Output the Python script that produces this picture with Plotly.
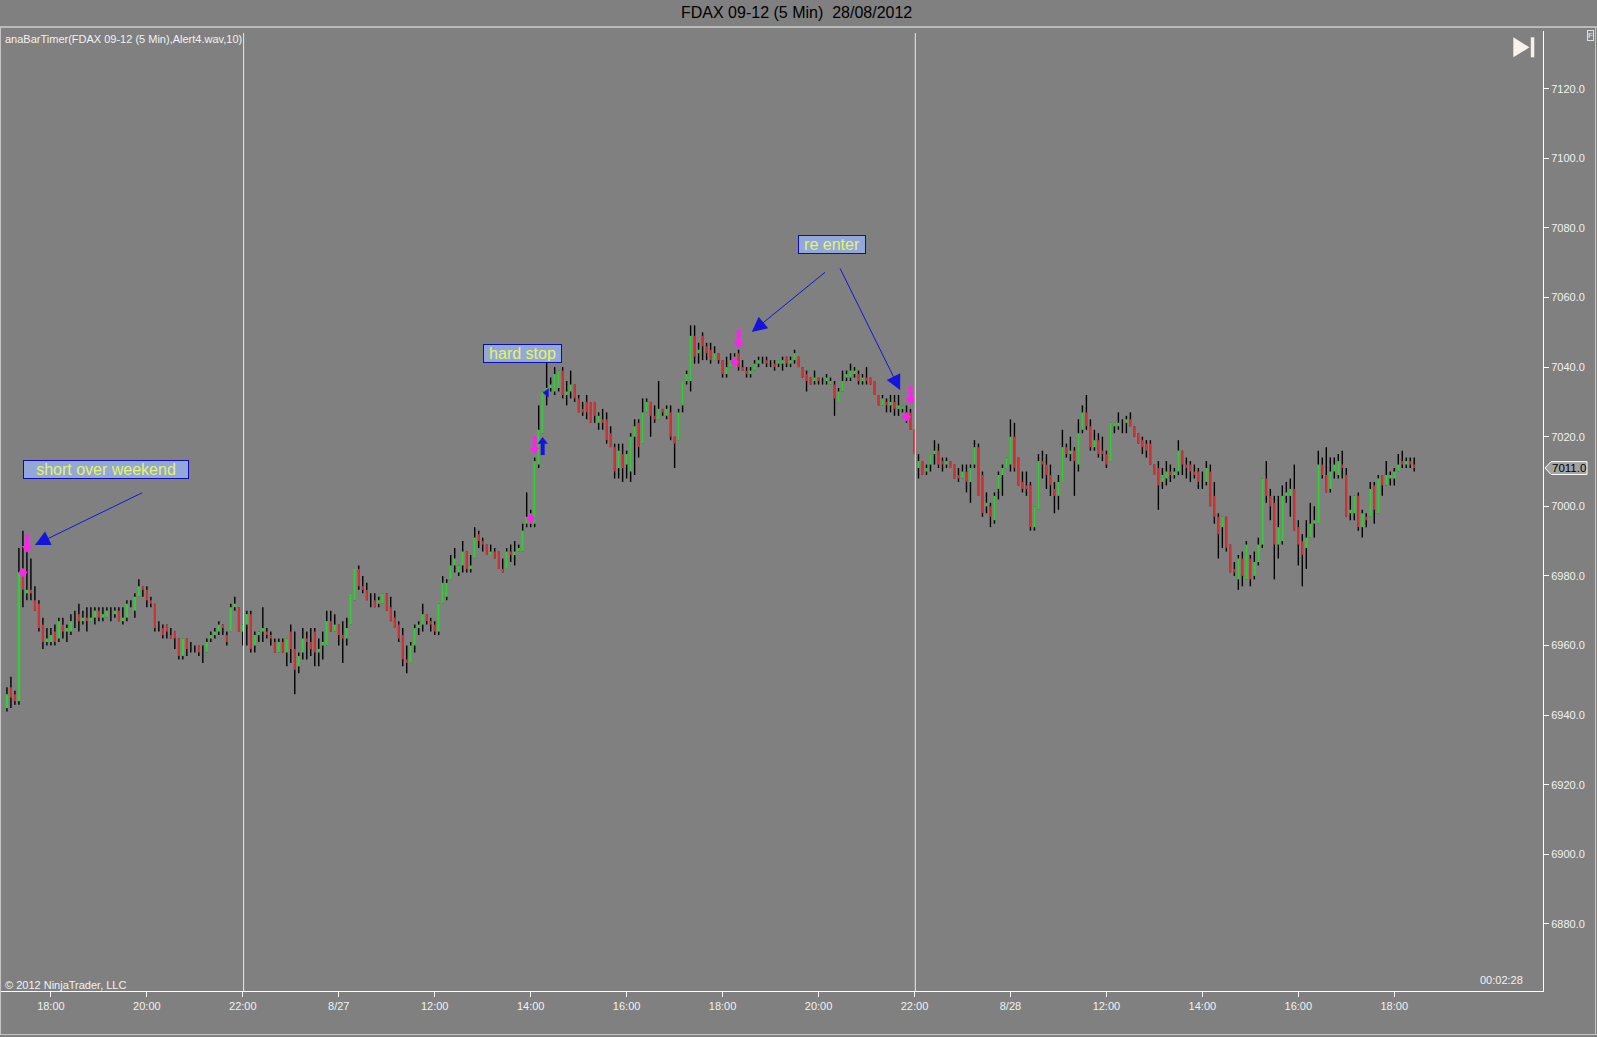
import pandas as pd
import plotly.graph_objects as go

# FDAX 09-12, 5 minute bars. Sessions 08:05-22:00, chart starts Friday 17:05
sessions = [
    ("2012-08-24 17:05", "2012-08-24 22:00"),
    ("2012-08-27 08:05", "2012-08-27 22:00"),
    ("2012-08-28 08:05", "2012-08-28 18:25"),
]

bar_open = [
    6942, 6948, 6946, 6944, 6981, 6975, 6976, 6973, 6972, 6966,
    6961, 6961, 6964, 6962, 6966, 6964, 6964, 6968, 6969, 6967,
    6968, 6967, 6968, 6970, 6968, 6968, 6969, 6969, 6970, 6967,
    6968, 6972, 6970, 6974, 6977, 6976, 6973, 6972, 6965, 6965,
    6966, 6963, 6964, 6962, 6957, 6962, 6959, 6959, 6960, 6958,
    6958, 6962, 6963, 6964, 6966, 6963, 6964, 6971, 6971, 6964,
    6966, 6969, 6960, 6963, 6964, 6964, 6963, 6961, 6958, 6961,
    6958, 6964, 6959, 6954, 6958, 6962, 6961, 6964, 6958, 6960,
    6960, 6967, 6964, 6966, 6963, 6962, 6966, 6973, 6982, 6977,
    6976, 6973, 6973, 6972, 6972, 6975, 6971, 6968, 6966, 6963,
    6956, 6955, 6960, 6965, 6966, 6969, 6967, 6966, 6964, 6972,
    6974, 6979, 6983, 6981, 6983, 6987, 6982, 6985, 6992, 6990,
    6989, 6986, 6987, 6987, 6982, 6982, 6987, 6986, 6987, 6987,
    6995, 6995, 6995, 7012, 7021, 7033, 7034, 7033, 7034, 7039,
    7032, 7033, 7035, 7031, 7028, 7030, 7030, 7030, 7024, 7025,
    7025, 7021, 7017, 7011, 7015, 7012, 7010, 7020, 7024, 7018,
    7027, 7030, 7026, 7025, 7028, 7026, 7027, 7020, 7019, 7029,
    7036, 7036, 7049, 7044, 7049, 7046, 7045, 7042, 7044, 7042,
    7038, 7040, 7042, 7044, 7040, 7039, 7038, 7039, 7041, 7042,
    7042, 7041, 7041, 7041, 7041, 7043, 7041, 7042, 7043, 7040,
    7038, 7037, 7036, 7037, 7036, 7036, 7035, 7035, 7030, 7033,
    7037, 7037, 7038, 7038, 7036, 7037, 7037, 7036, 7032, 7029,
    7030, 7029, 7030, 7028, 7028, 7027, 7027, 7022,
    7011, 7013, 7010, 7012, 7015, 7016, 7013, 7012, 7013, 7012,
    7009, 7008, 7010, 7007, 7012, 7017, 7009, 7000, 7000, 6996,
    7005, 7009, 7011, 7012, 7020, 7014, 7007, 7006, 7006, 6994,
    6999, 7013, 7012, 7009, 7005, 7003, 7007, 7017, 7015, 7016,
    7012, 7022, 7027, 7023, 7017, 7019, 7016, 7015, 7013, 7023,
    7023, 7024, 7024, 7025, 7023, 7021, 7019, 7018, 7018, 7012,
    7011, 7007, 7008, 7010, 7009, 7010, 7016, 7012, 7012, 7010,
    7010, 7007, 7007, 7010, 7003, 6997, 6994, 6997, 6989, 6982,
    6979, 6985, 6979, 6985, 6980, 6984, 6989, 7008, 7003, 7001,
    6989, 6990, 7003, 7003, 7005, 6994, 6990, 6988, 6991, 6995,
    6995, 7012, 7009, 7005, 7010, 7009, 7012, 7009, 6998, 6998,
    7003, 6994, 6997, 6997, 7006, 6998, 7009, 7006, 7008, 7008,
    7010, 7013, 7012, 7013, 7012,
]

bar_high = [
    6948, 6951, 6947, 6988, 6993, 6990, 6985, 6977, 6973, 6968,
    6965, 6965, 6966, 6968, 6968, 6966, 6969, 6970, 6972, 6970,
    6971, 6971, 6971, 6971, 6971, 6971, 6971, 6971, 6971, 6971,
    6973, 6973, 6975, 6979, 6977, 6977, 6974, 6972, 6967, 6966,
    6966, 6965, 6964, 6962, 6962, 6962, 6961, 6960, 6960, 6960,
    6962, 6964, 6965, 6967, 6966, 6964, 6972, 6974, 6971, 6966,
    6970, 6970, 6964, 6964, 6971, 6965, 6964, 6962, 6962, 6962,
    6962, 6966, 6964, 6958, 6965, 6964, 6965, 6965, 6962, 6964,
    6970, 6970, 6969, 6966, 6967, 6968, 6975, 6982, 6983, 6980,
    6978, 6975, 6975, 6974, 6975, 6975, 6974, 6970, 6967, 6965,
    6960, 6961, 6966, 6967, 6972, 6969, 6968, 6967, 6972, 6980,
    6979, 6986, 6988, 6983, 6990, 6987, 6986, 6994, 6993, 6991,
    6989, 6989, 6988, 6987, 6985, 6988, 6989, 6990, 6989, 6995,
    7004, 6999, 7014, 7029, 7033, 7042, 7037, 7040, 7039, 7040,
    7036, 7039, 7035, 7032, 7030, 7032, 7030, 7030, 7027, 7028,
    7027, 7023, 7018, 7018, 7018, 7016, 7021, 7025, 7025, 7031,
    7031, 7030, 7029, 7036, 7028, 7029, 7029, 7020, 7028, 7036,
    7039, 7052, 7052, 7047, 7050, 7047, 7047, 7046, 7044, 7042,
    7043, 7044, 7044, 7045, 7042, 7040, 7040, 7042, 7043, 7043,
    7043, 7042, 7042, 7042, 7043, 7043, 7043, 7045, 7043, 7040,
    7039, 7037, 7039, 7037, 7037, 7038, 7037, 7036, 7034, 7039,
    7039, 7041, 7040, 7039, 7038, 7040, 7037, 7036, 7032, 7032,
    7031, 7032, 7032, 7032, 7029, 7029, 7028, 7022,
    7015, 7013, 7012, 7015, 7019, 7018, 7014, 7014, 7013, 7012,
    7011, 7012, 7012, 7012, 7019, 7018, 7010, 7004, 7001, 7004,
    7010, 7012, 7014, 7025, 7024, 7014, 7010, 7010, 7007, 7000,
    7015, 7016, 7015, 7012, 7007, 7009, 7022, 7018, 7020, 7017,
    7025, 7029, 7032, 7025, 7022, 7021, 7020, 7016, 7024, 7024,
    7027, 7025, 7026, 7027, 7023, 7021, 7020, 7019, 7019, 7012,
    7013, 7011, 7013, 7012, 7011, 7019, 7016, 7014, 7013, 7012,
    7011, 7010, 7013, 7012, 7007, 6998, 6997, 6997, 6989, 6984,
    6986, 6987, 6990, 6986, 6987, 6991, 7008, 7013, 7005, 7003,
    7003, 7006, 7007, 7008, 7012, 6996, 6992, 6996, 7001, 7000,
    7016, 7014, 7017, 7014, 7014, 7015, 7016, 7011, 7003, 7003,
    7004, 6999, 6998, 7007, 7007, 7009, 7009, 7013, 7010, 7011,
    7015, 7016, 7014, 7014, 7014,
]

bar_low = [
    6941, 6942, 6943, 6943, 6971, 6973, 6973, 6970, 6964, 6959,
    6960, 6960, 6960, 6961, 6962, 6961, 6963, 6965, 6964, 6966,
    6964, 6967, 6966, 6967, 6967, 6968, 6967, 6968, 6967, 6966,
    6967, 6971, 6968, 6974, 6974, 6971, 6971, 6964, 6964, 6962,
    6962, 6962, 6959, 6956, 6956, 6957, 6958, 6958, 6957, 6955,
    6958, 6961, 6962, 6963, 6963, 6960, 6964, 6970, 6964, 6960,
    6960, 6958, 6958, 6961, 6961, 6962, 6960, 6958, 6958, 6958,
    6954, 6955, 6946, 6952, 6956, 6956, 6957, 6954, 6954, 6956,
    6960, 6964, 6964, 6960, 6955, 6960, 6966, 6973, 6976, 6975,
    6973, 6971, 6971, 6971, 6972, 6970, 6967, 6965, 6961, 6954,
    6952, 6955, 6958, 6963, 6964, 6966, 6964, 6963, 6963, 6972,
    6973, 6979, 6981, 6980, 6981, 6981, 6981, 6985, 6988, 6987,
    6986, 6986, 6985, 6982, 6981, 6982, 6984, 6983, 6987, 6987,
    6994, 6994, 6994, 7011, 7021, 7029, 7033, 7032, 7033, 7031,
    7029, 7031, 7030, 7027, 7026, 7025, 7024, 7024, 7022, 7022,
    7018, 7017, 7008, 7008, 7007, 7008, 7007, 7009, 7014, 7018,
    7027, 7020, 7024, 7025, 7026, 7025, 7019, 7011, 7019, 7027,
    7035, 7033, 7041, 7041, 7042, 7042, 7041, 7042, 7041, 7037,
    7037, 7040, 7041, 7039, 7039, 7037, 7037, 7039, 7040, 7041,
    7040, 7040, 7039, 7040, 7039, 7040, 7040, 7041, 7040, 7037,
    7033, 7035, 7035, 7035, 7035, 7035, 7035, 7026, 7030, 7033,
    7036, 7036, 7037, 7035, 7035, 7035, 7035, 7032, 7029, 7029,
    7027, 7027, 7026, 7026, 7027, 7024, 7022, 7015,
    7008, 7009, 7009, 7010, 7012, 7011, 7010, 7011, 7011, 7008,
    7007, 7008, 7004, 7001, 7011, 7003, 6997, 6998, 6994, 6995,
    7002, 7003, 7011, 7010, 7010, 7006, 7004, 7003, 6993, 6993,
    6999, 7008, 7005, 7003, 6998, 6999, 7007, 7014, 7013, 7003,
    7010, 7021, 7022, 7016, 7016, 7014, 7013, 7011, 7013, 7021,
    7022, 7021, 7021, 7023, 7020, 7018, 7015, 7014, 7012, 7009,
    6999, 7005, 7006, 7007, 7008, 7009, 7009, 7008, 7007, 7008,
    7005, 7005, 7006, 7000, 6995, 6985, 6988, 6987, 6981, 6980,
    6976, 6977, 6979, 6977, 6979, 6983, 6988, 7001, 6996, 6979,
    6985, 6989, 7001, 6997, 6993, 6983, 6977, 6982, 6991, 6991,
    6995, 7008, 7004, 7004, 7008, 7008, 7008, 6997, 6996, 6996,
    6993, 6991, 6994, 6997, 6995, 6998, 7003, 7006, 7006, 7006,
    7010, 7011, 7011, 7011, 7010,
]

bar_close = [
    6946, 6945, 6944, 6981, 6976, 6976, 6975, 6970, 6965, 6961,
    6962, 6963, 6961, 6967, 6964, 6965, 6967, 6968, 6967, 6968,
    6967, 6968, 6970, 6968, 6969, 6970, 6969, 6970, 6967, 6968,
    6972, 6972, 6974, 6977, 6976, 6973, 6972, 6965, 6965, 6963,
    6964, 6962, 6962, 6957, 6962, 6959, 6959, 6959, 6958, 6958,
    6961, 6963, 6964, 6966, 6965, 6961, 6971, 6972, 6964, 6966,
    6969, 6959, 6963, 6964, 6965, 6963, 6962, 6958, 6961, 6958,
    6962, 6959, 6953, 6957, 6962, 6961, 6959, 6958, 6959, 6961,
    6967, 6964, 6966, 6963, 6962, 6965, 6975, 6982, 6977, 6976,
    6973, 6973, 6971, 6973, 6975, 6970, 6967, 6965, 6962, 6956,
    6955, 6960, 6965, 6966, 6969, 6967, 6966, 6964, 6972, 6978,
    6978, 6983, 6985, 6983, 6987, 6982, 6983, 6991, 6990, 6989,
    6986, 6987, 6985, 6982, 6981, 6987, 6986, 6987, 6988, 6993,
    6997, 6998, 7013, 7022, 7033, 7034, 7035, 7038, 7039, 7032,
    7033, 7035, 7031, 7027, 7027, 7027, 7024, 7026, 7026, 7024,
    7019, 7017, 7010, 7016, 7011, 7015, 7020, 7023, 7017, 7027,
    7030, 7026, 7025, 7028, 7027, 7028, 7020, 7018, 7027, 7036,
    7038, 7049, 7043, 7045, 7046, 7044, 7042, 7044, 7042, 7038,
    7040, 7042, 7043, 7040, 7039, 7038, 7039, 7041, 7042, 7042,
    7041, 7041, 7040, 7042, 7042, 7041, 7042, 7044, 7040, 7037,
    7036, 7035, 7037, 7036, 7036, 7037, 7036, 7031, 7033, 7036,
    7038, 7039, 7039, 7036, 7037, 7036, 7035, 7032, 7029, 7031,
    7029, 7030, 7028, 7029, 7029, 7025, 7022, 7015,
    7013, 7009, 7011, 7015, 7016, 7012, 7012, 7013, 7011, 7008,
    7008, 7010, 7007, 7011, 7017, 7003, 6998, 7001, 6997, 7003,
    7009, 7011, 7014, 7020, 7011, 7006, 7005, 7005, 6994, 7000,
    7013, 7012, 7009, 7006, 7003, 7007, 7017, 7015, 7016, 7013,
    7021, 7027, 7023, 7017, 7019, 7015, 7015, 7012, 7024, 7024,
    7024, 7024, 7025, 7023, 7020, 7018, 7017, 7016, 7012, 7009,
    7006, 7009, 7010, 7009, 7010, 7016, 7012, 7011, 7010, 7009,
    7007, 7007, 7011, 7000, 6997, 6992, 6997, 6988, 6981, 6981,
    6985, 6980, 6989, 6979, 6984, 6989, 7008, 7003, 7000, 6989,
    6994, 7003, 7004, 7005, 6993, 6989, 6986, 6991, 6995, 6996,
    7012, 7009, 7004, 7010, 7012, 7013, 7011, 6997, 6999, 7003,
    6994, 6998, 6996, 7005, 6999, 7008, 7006, 7009, 7009, 7010,
    7012, 7012, 7013, 7012, 7011,
]

tick_labels = ["18:00", "20:00", "22:00", "8/27", "12:00", "14:00", "16:00",
               "18:00", "20:00", "22:00", "8/28", "12:00", "14:00", "16:00", "18:00"]
price_ticks = [6880, 6900, 6920, 6940, 6960, 6980, 7000, 7020,
               7040, 7060, 7080, 7100, 7120]

# strategy markers (bar index, price)
sell_arrow_bars = [5, 132, 183, 226]
sell_arrow_prices = [6987.0, 7015.3, 7045.8, 7029.6]
buy_arrow_bars = [134]
buy_arrow_prices = [7019.6]
fill_bars = [4, 131, 182, 225]
fill_prices = [6981.0, 6996.5, 7041.5, 7025.7]
stop_bars = [135]
stop_prices = [7032.6]

BG = "#808080"
UP = "#2ed12e"
DOWN = "#d23232"
PINK = "#ff22ee"
BLUE = "#1414dc"
FONT = "Liberation Sans, Arial, sans-serif"

W, H = 1597, 1037
ML, MR, MT, MB = 0, 54, 31, 46
PW, PH = W - ML - MR, H - MT - MB
Y_RANGE = [6860.7, 7136.6]
PT = PH / (Y_RANGE[1] - Y_RANGE[0])  # pixels per point

bar_times = []
for start, end in sessions:
    bar_times.extend(pd.date_range(start, end, freq="5min"))
idx = list(range(len(bar_times)))

tick_vals = [k for k, t in enumerate(bar_times) if t.minute == 0 and t.hour % 2 == 0]
session_ends = [k for k, t in enumerate(bar_times)
                if t.hour == 22 and t.minute == 0]

wick_x, wick_y = [], []
up_x, up_y, dn_x, dn_y = [], [], [], []
for i, o, h, l, c in zip(idx, bar_open, bar_high, bar_low, bar_close):
    wick_x += [i, i, None]
    wick_y += [l, h, None]
    if c > o:
        up_x += [i, i, None]
        up_y += [o, c, None]
    elif c < o:
        dn_x += [i, i, None]
        dn_y += [o, c, None]

fig = go.Figure()
fig.add_trace(go.Scatter(x=wick_x, y=wick_y, mode="lines",
                         line=dict(color="#000000", width=1.4), hoverinfo="skip"))
fig.add_trace(go.Scatter(x=up_x, y=up_y, mode="lines",
                         line=dict(color=UP, width=2.3), hoverinfo="skip"))
fig.add_trace(go.Scatter(x=dn_x, y=dn_y, mode="lines",
                         line=dict(color=DOWN, width=2.3), hoverinfo="skip"))
fig.add_trace(go.Scatter(x=fill_bars, y=fill_prices, mode="markers",
                         marker=dict(symbol="diamond", size=7, color=PINK),
                         hoverinfo="skip"))
fig.add_trace(go.Scatter(x=stop_bars, y=stop_prices, mode="markers",
                         marker=dict(symbol="triangle-left", size=8, color=BLUE),
                         hoverinfo="skip"))


def block_arrows(bars, tips, color, down):
    # head: triangle ending at the tip, shaft: thick short bar behind it
    sgn = 1 if down else -1
    head_y = [p + sgn * 3.3 / PT for p in tips]
    shaft_y = [p + sgn * 10.0 / PT for p in tips]
    fig.add_trace(go.Scatter(x=bars, y=shaft_y, mode="markers", hoverinfo="skip",
                             marker=dict(symbol="line-ns", size=10, color=color,
                                         line=dict(color=color, width=4))))
    fig.add_trace(go.Scatter(x=bars, y=head_y, mode="markers", hoverinfo="skip",
                             marker=dict(symbol="triangle-down" if down else "triangle-up",
                                         size=9, color=color, line=dict(width=0))))


block_arrows(sell_arrow_bars, sell_arrow_prices, PINK, True)
block_arrows(buy_arrow_bars, buy_arrow_prices, BLUE, False)

annotations = []

# drawn text labels
labels = [
    ("short over weekend", 24.9, 7010.5, 162),
    ("hard stop", 129.0, 7044.0, 75),
    ("re enter", 206.4, 7075.1, 64),
]
for txt, lx, ly, w in labels:
    annotations.append(dict(x=lx, y=ly, xref="x", yref="y", text=txt, showarrow=False,
                            width=w, height=15, borderpad=1, bgcolor="#93a8da",
                            bordercolor="#0c0cb0", borderwidth=1,
                            font=dict(family=FONT, size=16, color="#e6f55a")))

# drawn arrows (tip, tail)
draw_arrows = [
    ((7.0, 6988.9), (34.2, 7004.1)),
    ((186.3, 7050.1), (205.0, 7067.6)),
    ((223.4, 7033.4), (208.2, 7068.8)),
]
for (tx, ty), (sx, sy) in draw_arrows:
    annotations.append(dict(x=tx, y=ty, ax=sx, ay=sy, xref="x", yref="y",
                            axref="x", ayref="y", text="", showarrow=True,
                            arrowhead=2, arrowsize=3, arrowwidth=1,
                            arrowcolor=BLUE, standoff=0))


def px(xp):
    return (xp - ML) / PW


def py(yp):
    return (H - MB - yp) / PH


white_txt = dict(family=FONT, size=11, color="#f2f2f2")
annotations += [
    dict(x=px(796), y=py(13), xref="paper", yref="paper", showarrow=False,
         xanchor="center", yanchor="middle",
         text="FDAX 09-12 (5 Min)\u00a0 28/08/2012",
         font=dict(family=FONT, size=16, color="#000000")),
    dict(x=px(3), y=py(38.5), xref="paper", yref="paper", xanchor="left",
         yanchor="middle", showarrow=False,
         text="anaBarTimer(FDAX 09-12 (5 Min),Alert4.wav,10)", font=white_txt),
    dict(x=px(3), y=py(985), xref="paper", yref="paper", xanchor="left",
         yanchor="middle", showarrow=False, text="© 2012 NinjaTrader, LLC",
         font=white_txt),
    dict(x=px(1525), y=py(979.5), xref="paper", yref="paper", xanchor="right",
         yanchor="middle", showarrow=False, text="00:02:28", font=white_txt),
    dict(x=px(1569), y=bar_close[-1], xref="paper", yref="y", showarrow=False,
         xanchor="center", yanchor="middle", text=f"{bar_close[-1]:.1f}",
         font=dict(family=FONT, size=11.5, color="#000000")),
    dict(x=px(1590), y=py(35.5), xref="paper", yref="paper", showarrow=False,
         xanchor="center", yanchor="middle",
         text="F", borderpad=0, bordercolor="#e0e0e0", borderwidth=1,
         font=dict(family=FONT, size=8, color="#f2f2f2")),
]

shapes = []
# frame lines
shapes.append(dict(type="line", xref="paper", yref="paper", x0=px(0), x1=px(W),
                   y0=py(27), y1=py(27), line=dict(color="#f4f4f4", width=1)))
shapes.append(dict(type="line", xref="paper", yref="paper", x0=px(0.5), x1=px(0.5),
                   y0=py(27), y1=py(H - 2), line=dict(color="#c4c4c4", width=1)))
shapes.append(dict(type="line", xref="paper", yref="paper", x0=px(0), x1=px(W),
                   y0=py(H - 2.5), y1=py(H - 2.5), line=dict(color="#c4c4c4", width=1)))
shapes.append(dict(type="line", xref="paper", yref="paper", x0=px(W - 1.5), x1=px(W - 1.5),
                   y0=py(27), y1=py(H - 2), line=dict(color="#c4c4c4", width=1)))
# session breaks
for k in session_ends[:2]:
    shapes.append(dict(type="line", xref="x", yref="paper", x0=k + 0.2, x1=k + 0.2,
                       y0=0, y1=py(33), line=dict(color="#e8e8e8", width=1)))
# last price marker
last = bar_close[-1]
half = 6.4 / PT
shapes.append(dict(type="path", xref="paper", yref="y", fillcolor="#a2a2a2",
                   line=dict(color="#ffffff", width=1),
                   path=(f"M{px(1545)},{last} L{px(1551)},{last + half} "
                         f"L{px(1587)},{last + half} L{px(1587)},{last - half} "
                         f"L{px(1551)},{last - half} Z")))
# "go to end" button
shapes.append(dict(type="path", xref="paper", yref="paper", fillcolor="#f7f2ec",
                   line=dict(width=0),
                   path=f"M{px(1513.3)},{py(37.3)} L{px(1513.3)},{py(57.3)} "
                        f"L{px(1529.5)},{py(47.3)} Z"))
shapes.append(dict(type="rect", xref="paper", yref="paper", fillcolor="#f7f2ec",
                   line=dict(width=0), x0=px(1530.8), x1=px(1534.3),
                   y0=py(57.3), y1=py(37.3)))

fig.update_layout(
    width=W, height=H, autosize=False,
    margin=dict(l=ML, r=MR, t=MT, b=MB, pad=0),
    paper_bgcolor=BG, plot_bgcolor=BG,
    showlegend=False, hovermode=False,
    annotations=annotations, shapes=shapes,
    xaxis=dict(range=[-1.73, 384.2], tickvals=tick_vals, ticktext=tick_labels,
               showgrid=False, zeroline=False, showline=True, linecolor="#ffffff",
               linewidth=1, ticks="outside", ticklen=5, tickcolor="#ffffff",
               tickfont=dict(family=FONT, size=11, color="#f2f2f2"), fixedrange=True),
    yaxis=dict(range=Y_RANGE, side="right", tickvals=price_ticks,
               tickformat=".1f", showgrid=False, zeroline=False, showline=True,
               linecolor="#ffffff", linewidth=1, ticks="outside", ticklen=5,
               tickcolor="#ffffff",
               tickfont=dict(family=FONT, size=11, color="#f2f2f2"), fixedrange=True),
)

fig.write_html("out.html", config={"displayModeBar": False},
               post_script="document.body.style.margin='0';")
